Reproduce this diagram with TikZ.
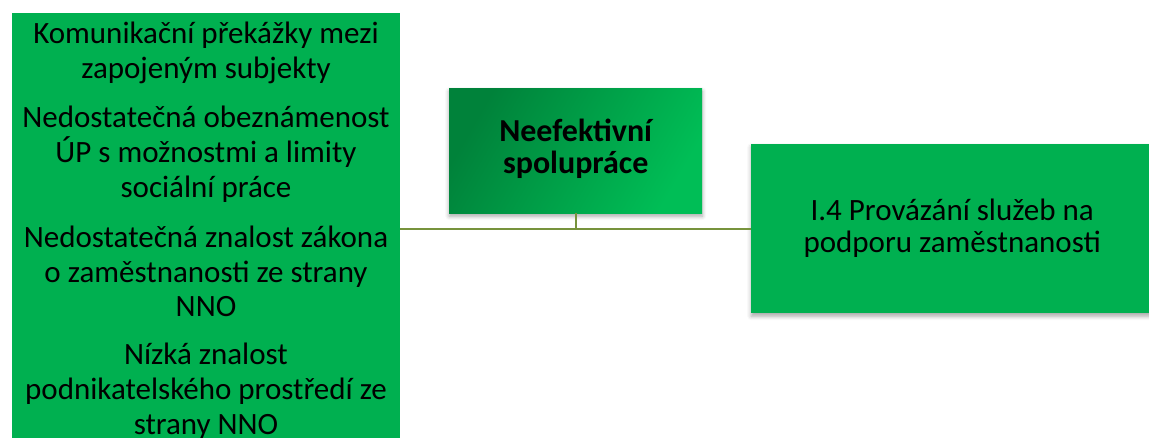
\documentclass[tikz,border=0pt]{standalone}
\usepackage{fontspec}
\setmainfont{Carlito}
\usetikzlibrary{shadows.blur}
\definecolor{boxgreen}{RGB}{0,176,80}
\definecolor{darkgreen}{RGB}{0,130,58}
\definecolor{lightgreen}{RGB}{0,190,86}
\definecolor{connolive}{RGB}{119,147,60}
\tikzset{
  x=1pt,y=1pt,
  greenbox/.style={rectangle, fill=boxgreen, inner sep=0pt, anchor=north west},
  boxtext/.style={inner sep=0pt, align=center, font=\fontsize{31}{34.8}\selectfont},
  conn/.style={draw=connolive, line width=2pt},
  shadowed/.style={blur shadow={shadow xshift=0pt, shadow yshift=-3pt, shadow blur radius=4pt, shadow opacity=35}}
}
\begin{document}
\begin{tikzpicture}
\useasboundingbox (0,0) rectangle (1149,438);
% left box
\node[greenbox, minimum width=388pt, minimum height=450pt] (left) at (12,425) {};
\node[boxtext, anchor=north] (lefttext) at (206,416.5)
 {Komunikační překážky mezi\\ zapojeným subjekty\\[15pt]
  Nedostatečná obeznámenost\\ ÚP s možnostmi a limity\\ sociální práce\\[15pt]
  Nedostatečná znalost zákona\\ o zaměstnanosti ze strany\\ NNO\\[13pt]
  Nízká znalost\\ podnikatelského prostředí ze\\ strany NNO};
% right box
\node[greenbox, shadowed, minimum width=402pt, minimum height=169pt] (right) at (751,294) {};
\node[boxtext, font=\fontsize{31}{32}\selectfont] (righttext) at (right.center)
 {I.4 Provázání služeb na\\ podporu zaměstnanosti};
% middle box
\node[rectangle, inner sep=0pt, anchor=north west, minimum width=253pt, minimum height=125pt,
      shadowed, left color=darkgreen, right color=lightgreen, shading angle=60] (mid) at (449,350) {};
\node[boxtext, font=\fontsize{32}{32}\bfseries\selectfont] (midtext) at ([yshift=2pt]mid.center)
 {Neefektivní\\ spolupráce};
% connectors
\draw[conn] (left.east |- right.west) -- (right.west);
\draw[conn] (mid.south) -- (mid.south |- right.west);
\end{tikzpicture}
\end{document}
